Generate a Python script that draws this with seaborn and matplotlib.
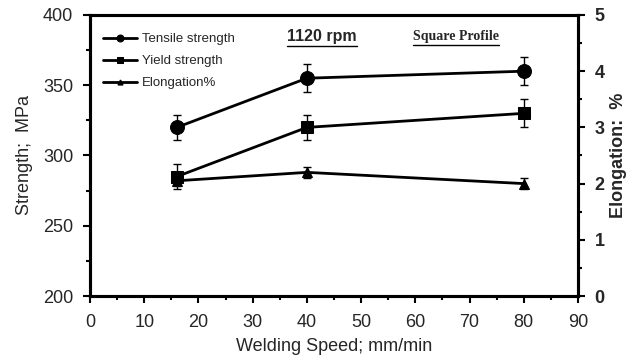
import numpy as np
import pandas as pd
import matplotlib
matplotlib.use("Agg")
import matplotlib.pyplot as plt
import seaborn as sns
from matplotlib.ticker import MultipleLocator
from matplotlib.lines import Line2D
from matplotlib.font_manager import FontProperties

speed = [16, 40, 80]
tensile = [320, 355, 360]
tensile_err = [9, 10, 10]
yield_s = [285, 320, 330]
yield_err = [9, 9, 10]
elong = [2.05, 2.2, 2.0]
elong_err = [0.1, 0.1, 0.1]

sns.set_theme(style="white")
plt.rcParams['font.family'] = ['Liberation Sans', 'DejaVu Sans']

fig = plt.figure(figsize=(6.44, 3.62), dpi=100)
ax = fig.add_axes([0.1398, 0.1823, 0.7577, 0.7763])
ax2 = ax.twinx()

df = pd.DataFrame({"speed": speed, "tensile": tensile, "yield": yield_s, "elong": elong})

sns.lineplot(data=df, x="speed", y="tensile", ax=ax, color="black", lw=2,
             marker="o", markersize=10, markeredgecolor="black", label="Tensile strength")
ax.errorbar(speed, tensile, yerr=tensile_err, fmt="none", ecolor="black", elinewidth=1, capsize=3)
sns.lineplot(data=df, x="speed", y="yield", ax=ax, color="black", lw=2,
             marker="s", markersize=8.5, markeredgecolor="black", label="Yield strength")
ax.errorbar(speed, yield_s, yerr=yield_err, fmt="none", ecolor="black", elinewidth=1, capsize=3)
sns.lineplot(data=df, x="speed", y="elong", ax=ax2, color="black", lw=2,
             marker="^", markersize=7, markeredgecolor="black", legend=False)
ax2.errorbar(speed, elong, yerr=elong_err, fmt="none", ecolor="black", elinewidth=1, capsize=3)

ax.set_xlim(0, 90)
ax.set_ylim(200, 400)
ax2.set_ylim(0, 5)
ax.xaxis.set_major_locator(MultipleLocator(10))
ax.xaxis.set_minor_locator(MultipleLocator(5))
ax.yaxis.set_major_locator(MultipleLocator(50))
ax.yaxis.set_minor_locator(MultipleLocator(25))
ax2.yaxis.set_major_locator(MultipleLocator(1))
ax2.yaxis.set_minor_locator(MultipleLocator(0.5))

for a in (ax, ax2):
    for s in a.spines.values():
        s.set_linewidth(2.2)
        s.set_color("black")
    a.tick_params(which="major", direction="out", length=5, width=1.5, color="black", labelsize=13)
    a.tick_params(which="minor", direction="out", length=3, width=1.5, color="black")
ax.tick_params(axis="x", which="both", bottom=True)
ax.tick_params(axis="x", which="major", pad=8)
ax.tick_params(axis="y", which="both", left=True)
ax.tick_params(axis="y", which="major", pad=7)
ax2.tick_params(axis="y", which="both", right=True)
ax2.tick_params(axis="y", which="major", pad=7)
for lbl in ax2.get_yticklabels():
    lbl.set_fontweight("bold")

ax.set_xlabel("Welding Speed; mm/min", fontsize=13, labelpad=5)
ax.set_ylabel("Strength;  MPa", fontsize=13, labelpad=7)
ax2.set_ylabel("Elongation:  %", fontsize=13, fontweight="bold", labelpad=4)

h, l = ax.get_legend_handles_labels()
h.append(Line2D([], [], color="black", lw=2, marker="^", markersize=7))
l.append("Elongation%")
if ax.get_legend():
    ax.get_legend().remove()
leg = ax.legend(h, l, loc="upper left", frameon=False, fontsize=9.5, markerscale=0.5,
                handlelength=2.6, handletextpad=0.4, labelspacing=0.75,
                borderaxespad=0.0, bbox_to_anchor=(0.015, 0.955))

fp_sans = FontProperties(family="Liberation Sans", weight="bold", size=11.5)
fp_serif = FontProperties(family="Liberation Serif", weight="bold", size=10)
t1 = fig.text(0.5, 0.898, "1120 rpm", fontproperties=fp_sans, ha="center", va="center")
t2 = fig.text(0.708, 0.898, "Square Profile", fontproperties=fp_serif, ha="center", va="center")

fig.canvas.draw()
r = fig.canvas.get_renderer()
for t in (t1, t2):
    bb = t.get_window_extent(renderer=r).transformed(fig.transFigure.inverted())
    fig.add_artist(Line2D([bb.x0, bb.x1], [bb.y0 - 0.004, bb.y0 - 0.004], color="black", lw=1,
                          transform=fig.transFigure))

fig.savefig("out.png", dpi=100)
